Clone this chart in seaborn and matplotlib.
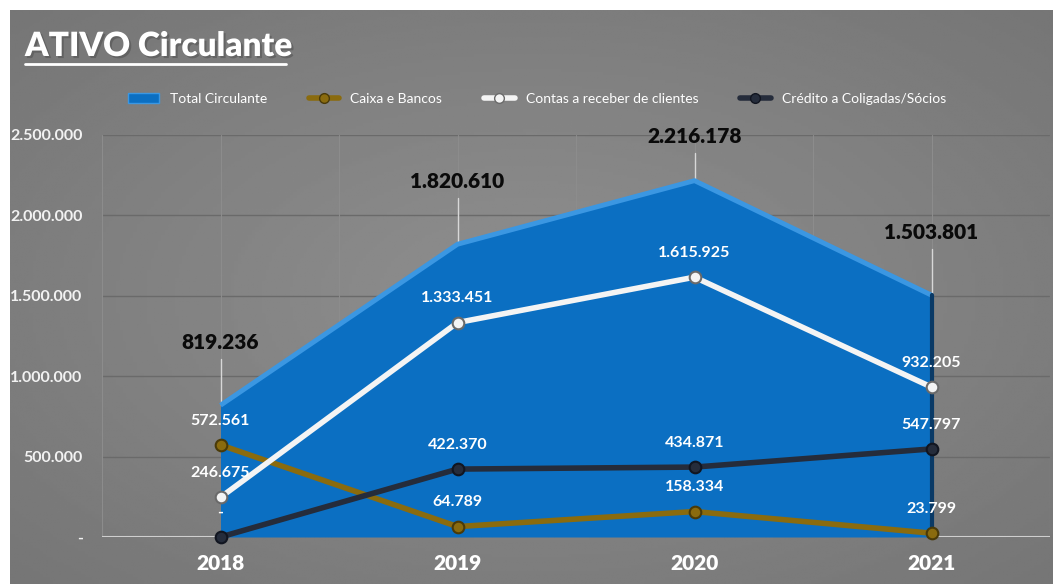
import numpy as np
import pandas as pd
import matplotlib.pyplot as plt
import seaborn as sns
from matplotlib.patches import Patch
from matplotlib.lines import Line2D
import matplotlib.patheffects as pe

# data
anos = ['2018', '2019', '2020', '2021']
total_circulante = [819236, 1820610, 2216178, 1503801]
caixa_bancos = [572561, 64789, 158334, 23799]
contas_receber = [246675, 1333451, 1615925, 932205]
credito_coligadas = [0, 422370, 434871, 547797]
y_ticks = [0, 500000, 1000000, 1500000, 2000000, 2500000]

series_names = ['Caixa e Bancos', 'Contas a receber de clientes', 'Crédito a Coligadas/Sócios']
series_colors = ['#8a6b0e', '#f4f4f4', '#252c3b']
edge_colors = ['#4a3a08', '#6a6a6a', '#111520']


def fmt(v):
    if v == 0:
        return '-'
    return f'{v:,.0f}'.replace(',', '.')


sns.set_theme(style='white')
plt.rcParams['font.family'] = ['Lato', 'DejaVu Sans']

fig = plt.figure(figsize=(10.53, 5.84), dpi=100, facecolor='white')

# gray gradient background panel
bg = fig.add_axes([10 / 1053, 0, 1 - 10 / 1053, 574 / 584])
gx, gy = np.meshgrid(np.linspace(-1, 1, 300), np.linspace(-1, 1, 200))
r = np.sqrt(gx ** 2 + gy ** 2)
bg.imshow(0.56 - 0.07 * r, cmap='gray', vmin=0, vmax=1, aspect='auto', extent=[0, 1, 0, 1])
bg.set_axis_off()

ax = fig.add_axes([102 / 1053, 47 / 584, 948 / 1053, 402 / 584])
ax.set_facecolor('none')

x = np.arange(len(anos))

# gridlines
for yt in y_ticks[1:]:
    ax.axhline(yt, color='#6a6a6a', lw=1.0, zorder=0)
for xv in np.arange(-0.5, 4.0, 0.5):
    ax.axvline(xv, color='#8c8c8c', lw=0.8, zorder=0)
ax.axhline(0, color='#cfcfcf', lw=1.5, zorder=1)

# total area
ax.fill_between(x, 0, total_circulante, color='#0b6fc2', zorder=2, lw=0)
ax.plot(x, total_circulante, color='#3b97e2', lw=3.5, zorder=3, solid_capstyle='butt')
ax.plot([3, 3], [0, total_circulante[3]], color='#0a3a66', lw=3, zorder=3)

# total labels with leader lines
for xi, v in zip(x, total_circulante):
    ylab = min(v + 390000, 2490000)
    ax.text(xi, ylab, fmt(v), ha='center', va='center', fontsize=15, fontweight='heavy',
            color='#0a0a0a', zorder=6)
    if ylab - v > 200000:
        ax.plot([xi, xi], [v, ylab - 100000], color='#d8d8d8', lw=1, zorder=1)

# lines via seaborn
df = pd.DataFrame({
    'ano': np.tile(x, 3),
    'valor': caixa_bancos + contas_receber + credito_coligadas,
    'serie': np.repeat(series_names, len(anos)),
})
sns.lineplot(data=df, x='ano', y='valor', hue='serie', hue_order=series_names,
             palette=dict(zip(series_names, series_colors)), lw=4, ax=ax,
             legend=False, zorder=4, clip_on=False)
for name, vals, c, ec in zip(series_names, [caixa_bancos, contas_receber, credito_coligadas],
                             series_colors, edge_colors):
    ax.scatter(x, vals, s=70, color=c, edgecolor=ec, lw=1.5, zorder=5, clip_on=False)
    for xi, v in zip(x, vals):
        ax.text(xi, v + 150000, fmt(v), ha='center', va='center', fontsize=11.5,
                fontweight='bold', color='white', zorder=6)

ax.set_xlim(-0.5, 3.5)
ax.set_ylim(0, 2500000)
ax.set_xticks(x)
ax.set_xticklabels(anos, fontsize=15, fontweight='heavy', color='white')
ax.set_yticks(y_ticks)
ax.set_yticklabels([fmt(v) for v in y_ticks], fontsize=11.5, fontweight='bold', color='#f2f2f2')
ax.tick_params(axis='x', pad=12, length=0)
ax.tick_params(axis='y', pad=14, length=0)
ax.set_xlabel('')
ax.set_ylabel('')
for s in ax.spines.values():
    s.set_visible(False)

# title
fig.text(25 / 1053, 1 - 46 / 584, 'ATIVO Circulante', fontsize=24, fontweight='heavy',
         color='white', va='center', ha='left',
         path_effects=[pe.withSimplePatchShadow(offset=(1.5, -1.5), alpha=0.5)])
fig.add_artist(Line2D([25 / 1053, 286 / 1053], [1 - 64 / 584, 1 - 64 / 584],
                      color='white', lw=2))

# legend
handles = [Patch(facecolor='#0b6fc2', edgecolor='#3b97e2', label='Total Circulante')]
for name, c, ec in zip(series_names, series_colors, edge_colors):
    handles.append(Line2D([0], [0], color=c, lw=4, marker='o', markersize=7,
                          markerfacecolor=c, markeredgecolor=ec, label=name))
leg = fig.legend(handles=handles, loc='center', bbox_to_anchor=(0.51, 1 - 99 / 584), ncol=4,
                 frameon=False, fontsize=10, labelcolor='white', columnspacing=3,
                 handlelength=2.2)

fig.savefig('out.png', dpi=100, facecolor='white')
